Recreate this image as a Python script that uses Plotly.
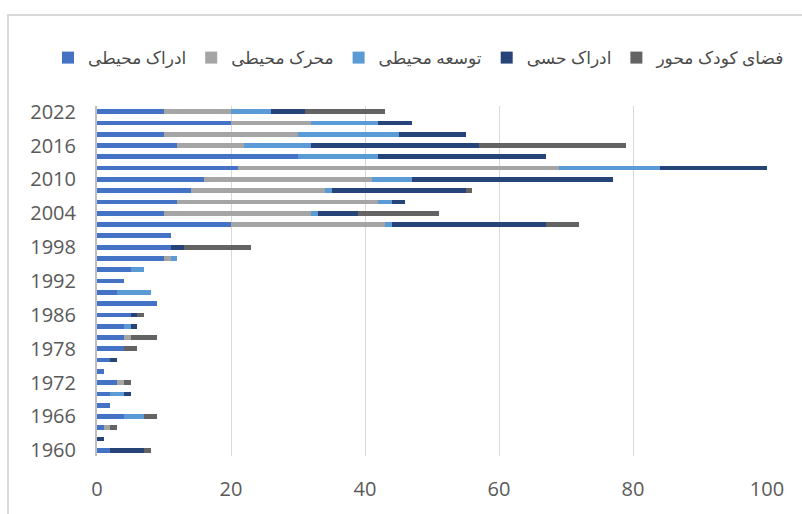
import plotly.graph_objects as go

years = ['1960', '1962', '1964', '1966', '1968', '1970', '1972', '1974', '1976', '1978',
         '1982', '1984', '1986', '1988', '1990', '1992', '1994', '1996', '1998', '2000',
         '2002', '2004', '2006', '2008', '2010', '2012', '2014', '2016', '2018', '2020', '2022']

adrak_mohiti = [2, 0, 1, 4, 2, 2, 3, 1, 2, 4, 4, 4, 5, 9, 3, 4, 5, 10, 11, 11, 20, 10, 12, 14, 16, 21, 30, 12, 10, 20, 10]
moharek_mohiti = [0, 0, 1, 0, 0, 0, 1, 0, 0, 0, 1, 0, 0, 0, 0, 0, 0, 1, 0, 0, 23, 22, 30, 20, 25, 48, 0, 10, 20, 12, 10]
tosee_mohiti = [0, 0, 0, 3, 0, 2, 0, 0, 0, 0, 0, 1, 0, 0, 5, 0, 2, 1, 0, 0, 1, 1, 2, 1, 6, 15, 12, 10, 15, 10, 6]
adrak_hessi = [5, 1, 0, 0, 0, 1, 0, 0, 1, 0, 0, 1, 1, 0, 0, 0, 0, 0, 2, 0, 23, 6, 2, 20, 30, 16, 25, 25, 10, 5, 5]
fazaye_koodak = [1, 0, 1, 2, 0, 0, 1, 0, 0, 2, 4, 0, 1, 0, 0, 0, 0, 0, 10, 0, 5, 12, 0, 1, 0, 0, 0, 22, 0, 0, 12]

series_names = ['ادراک محیطی', 'محرک محیطی', 'توسعه محیطی', 'ادراک حسی', 'فضای کودک محور']
series_values = [adrak_mohiti, moharek_mohiti, tosee_mohiti, adrak_hessi, fazaye_koodak]
colors = ['#4472C4', '#A5A5A5', '#5B9BD5', '#264478', '#636363']

tick_years = years[::3]
x_ticks = [0, 20, 40, 60, 80, 100]

FONT = 'Open Sans, DejaVu Sans, sans-serif'

fig = go.Figure()
for name, vals, col in zip(series_names, series_values, colors):
    fig.add_trace(go.Bar(
        y=years, x=vals, name=name, orientation='h',
        marker=dict(color=col, line=dict(width=0)),
    ))

fig.update_layout(
    width=802, height=514,
    barmode='stack', bargap=0.58,
    plot_bgcolor='white', paper_bgcolor='white',
    margin=dict(l=97, r=35, t=106, b=58),
    font=dict(family=FONT, color='#595959'),
    legend=dict(
        orientation='h', x=(48 - 97) / 670, xanchor='left', y=1.137, yanchor='middle',
        traceorder='normal', font=dict(size=17, color='#4a4a4a', family=FONT),
        itemwidth=30, itemclick=False, bgcolor='rgba(0,0,0,0)',
    ),
    xaxis=dict(
        range=[0, 100], tickvals=x_ticks, showgrid=True, gridcolor='#D9D9D9', gridwidth=1,
        zeroline=False, showline=False, ticks='', tickfont=dict(size=20, color='#595959'),
        ticklabelstandoff=19, fixedrange=True,
    ),
    yaxis=dict(
        type='category', categoryorder='array', categoryarray=years,
        tickvals=tick_years, ticktext=tick_years, showgrid=False, zeroline=False,
        showline=True, linecolor='#BFBFBF', linewidth=2, ticks='',
        tickfont=dict(size=20, color='#595959'), ticklabelstandoff=15,
        range=[-0.5, 30.5], fixedrange=True,
    ),
    shapes=[dict(
        type='rect', xref='paper', yref='paper',
        x0=(8 - 97) / 670, x1=1.3, y0=-0.4, y1=(456 - 15) / 350,
        line=dict(color='#D9D9D9', width=2), fillcolor='rgba(0,0,0,0)', layer='below',
    )],
)

fig.write_html('out.html', config={'displayModeBar': False})
